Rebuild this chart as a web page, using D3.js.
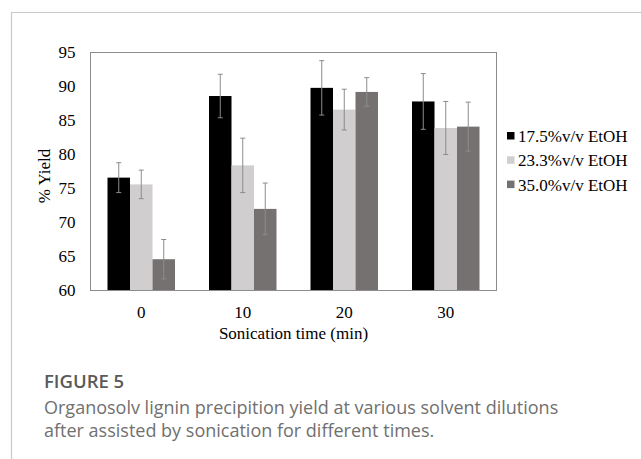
<html>
<head>
<meta charset="utf-8">
<style>
    body{ margin: 0; background: #fff; }
    .tick text{ font-family: "Liberation Serif", "Times New Roman", serif; font-size: 17px; fill: #000; }
</style>
<script src="https://d3js.org/d3.v7.min.js"></script>
</head>
<body>
<svg id="chart"></svg>
<script>
    // ---- data
    let times = ['0', '10', '20', '30'];
    let seriesNames = ['17.5%v/v EtOH', '23.3%v/v EtOH', '35.0%v/v EtOH'];
    let yield175 = [76.6, 88.6, 89.8, 87.8];
    let err175   = [2.2, 3.2, 4.0, 4.1];
    let yield233 = [75.6, 78.4, 86.6, 83.9];
    let err233   = [2.1, 4.0, 3.0, 3.9];
    let yield350 = [64.6, 72.0, 89.2, 84.1];
    let err350   = [2.9, 3.8, 2.1, 3.6];
    let yTicks = [60, 65, 70, 75, 80, 85, 90, 95];
    let colors = ['#000000', '#d0cece', '#767171'];

    let yields = [yield175, yield233, yield350];
    let errs = [err175, err233, err350];

    let width = 641, height = 459;
    let margin = {top: 52.5, bottom: 168.5, left: 90.5, right: 144.5};

    let svg = d3.select('#chart').attr('width', width).attr('height', height);

    // card border
    svg.append('path')
        .attr('d', `M11.5,${height} V12.5 H${width}`)
        .attr('fill', 'none')
        .attr('stroke', '#c8c8c8')
        .attr('stroke-width', 1.2)

    let bodyW = width - margin.left - margin.right;
    let bodyH = height - margin.top - margin.bottom;

    let x0 = d3.scaleBand().domain(times).range([0, bodyW]);
    let x1 = d3.scaleBand().domain(seriesNames)
        .range([x0.bandwidth() * 0.1675, x0.bandwidth() * 0.8325]);
    let y = d3.scaleLinear().domain([60, 95]).range([bodyH, 0]);

    let body = svg.append('g').attr('transform', `translate(${margin.left},${margin.top})`);

    // bars
    let rows = [];
    times.forEach((t, i) => {
        seriesNames.forEach((s, j) => {
            rows.push({time: t, series: s, value: yields[j][i], err: errs[j][i], color: colors[j]});
        })
    })

    body.selectAll('.bar')
        .data(rows)
        .enter().append('rect')
        .attr('class', 'bar')
        .attr('x', d => x0(d.time) + x1(d.series))
        .attr('width', x1.bandwidth())
        .attr('y', d => y(d.value))
        .attr('height', d => y(60) - y(d.value))
        .attr('fill', d => d.color)

    // error bars
    let eb = body.selectAll('.err')
        .data(rows)
        .enter().append('g')
        .attr('class', 'err')
        .attr('stroke', '#8c8c8c')
        .attr('stroke-width', 1)
    let cx = d => x0(d.time) + x1(d.series) + x1.bandwidth() / 2;
    eb.append('line')
        .attr('x1', cx).attr('x2', cx)
        .attr('y1', d => y(d.value + d.err)).attr('y2', d => y(d.value - d.err))
    eb.append('line')
        .attr('x1', d => cx(d) - 2.5).attr('x2', d => cx(d) + 2.5)
        .attr('y1', d => y(d.value + d.err)).attr('y2', d => y(d.value + d.err))
    eb.append('line')
        .attr('x1', d => cx(d) - 2.5).attr('x2', d => cx(d) + 2.5)
        .attr('y1', d => y(d.value - d.err)).attr('y2', d => y(d.value - d.err))

    // frame
    body.append('rect')
        .attr('x', 0).attr('y', 0)
        .attr('width', bodyW).attr('height', bodyH)
        .attr('fill', 'none')
        .attr('stroke', '#8c8c8c')
        .attr('stroke-width', 1)

    // axes
    let axisY = d3.axisLeft(y).tickValues(yTicks).tickSize(0).tickPadding(15);
    body.append('g').call(axisY).select('.domain').remove();

    let axisX = d3.axisBottom(x0).tickSize(0).tickPadding(15);
    body.append('g').attr('transform', `translate(0,${bodyH})`).call(axisX).select('.domain').remove();

    svg.append('text')
        .attr('transform', `translate(50,176) rotate(-90)`)
        .attr('text-anchor', 'middle')
        .attr('font-family', '"Liberation Serif", serif')
        .attr('font-size', 17)
        .text('% Yield')

    svg.append('text')
        .attr('x', margin.left + bodyW / 2)
        .attr('y', 339)
        .attr('text-anchor', 'middle')
        .attr('font-family', '"Liberation Serif", serif')
        .attr('font-size', 17)
        .text('Sonication time (min)')

    // legend
    let legend = svg.append('g').attr('transform', 'translate(507,136)');
    let li = legend.selectAll('g').data(seriesNames).enter().append('g')
        .attr('transform', (d, i) => `translate(0,${i * 24.3})`)
    li.append('rect')
        .attr('x', 0).attr('y', -4).attr('width', 7.5).attr('height', 7.5)
        .attr('fill', (d, i) => colors[i])
    li.append('text')
        .attr('x', 11).attr('y', 6)
        .attr('font-family', '"Liberation Serif", serif')
        .attr('font-size', 17)
        .text(d => d)

    // caption
    svg.append('text')
        .attr('x', 44).attr('y', 388)
        .attr('font-family', '"Open Sans", sans-serif')
        .attr('font-size', 18.5)
        .attr('font-weight', 600)
        .attr('fill', '#5a5a5a')
        .text('FIGURE 5')
    let capLines = ['Organosolv lignin precipition yield at various solvent dilutions',
                    'after assisted by sonication for different times.'];
    svg.selectAll('.cap').data(capLines).enter().append('text')
        .attr('class', 'cap')
        .attr('x', 44)
        .attr('y', (d, i) => 414 + i * 23)
        .attr('font-family', '"Open Sans", sans-serif')
        .attr('font-size', 18)
        .attr('fill', '#707070')
        .text(d => d)
</script>
</body>
</html>
